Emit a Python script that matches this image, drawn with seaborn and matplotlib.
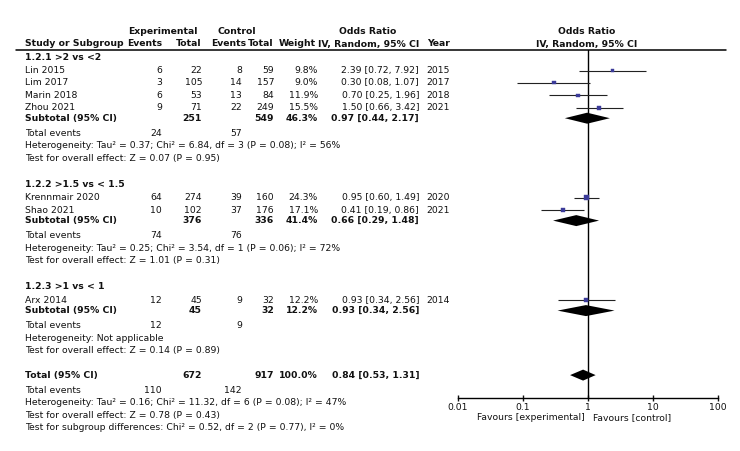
import numpy as np
import pandas as pd
import seaborn as sns
import matplotlib.pyplot as plt

sns.set_style("white")
plt.rcParams['font.family'] = ['DejaVu Sans']

# 연구별 데이터
studies = ["Lin 2015", "Lim 2017", "Marin 2018", "Zhou 2021", "Krennmair 2020", "Shao 2021", "Arx 2014"]
study_group = [0, 0, 0, 0, 1, 1, 2]
exp_events = [6, 3, 6, 9, 64, 10, 12]
exp_total = [22, 105, 53, 71, 274, 102, 45]
ctrl_events = [8, 14, 13, 22, 39, 37, 9]
ctrl_total = [59, 157, 84, 249, 160, 176, 32]
weight = [9.8, 9.0, 11.9, 15.5, 24.3, 17.1, 12.2]
or_est = [2.39, 0.30, 0.70, 1.50, 0.95, 0.41, 0.93]
or_lo = [0.72, 0.08, 0.25, 0.66, 0.60, 0.19, 0.34]
or_hi = [7.92, 1.07, 1.96, 3.42, 1.49, 0.86, 2.56]
year = [2015, 2017, 2018, 2021, 2020, 2021, 2014]

# 하위그룹 데이터
group_names = ["1.2.1 >2 vs <2", "1.2.2 >1.5 vs < 1.5", "1.2.3 >1 vs < 1"]
sub_exp_total = [251, 376, 45]
sub_ctrl_total = [549, 336, 32]
sub_exp_events = [24, 74, 12]
sub_ctrl_events = [57, 76, 9]
sub_weight = [46.3, 41.4, 12.2]
sub_or = [0.97, 0.66, 0.93]
sub_lo = [0.44, 0.29, 0.34]
sub_hi = [2.17, 1.48, 2.56]
sub_het = ["Heterogeneity: Tau² = 0.37; Chi² = 6.84, df = 3 (P = 0.08); I² = 56%",
           "Heterogeneity: Tau² = 0.25; Chi² = 3.54, df = 1 (P = 0.06); I² = 72%",
           "Heterogeneity: Not applicable"]
sub_test = ["Test for overall effect: Z = 0.07 (P = 0.95)",
            "Test for overall effect: Z = 1.01 (P = 0.31)",
            "Test for overall effect: Z = 0.14 (P = 0.89)"]

# 전체 데이터
tot_exp_total, tot_ctrl_total = 672, 917
tot_exp_events, tot_ctrl_events = 110, 142
tot_weight = 100.0
tot_or, tot_lo, tot_hi = 0.84, 0.53, 1.31
tot_het = "Heterogeneity: Tau² = 0.16; Chi² = 11.32, df = 6 (P = 0.08); I² = 47%"
tot_test = "Test for overall effect: Z = 0.78 (P = 0.43)"
tot_sub = "Test for subgroup differences: Chi² = 0.52, df = 2 (P = 0.77), I² = 0%"

tick_vals = [0.01, 0.1, 1, 10, 100]
tick_labels = ["0.01", "0.1", "1", "10", "100"]

W, H = 740, 451
fig = plt.figure(figsize=(W / 100, H / 100), dpi=100)
ov = fig.add_axes([0, 0, 1, 1])
ov.set_xlim(0, W)
ov.set_ylim(H, 0)
ov.axis("off")

FS = 6.7
ink = "#111111"


def txt(x, y, s, ha="left", bold=False):
    ov.text(x, y, s, ha=ha, va="center", fontsize=FS, color=ink,
            fontweight="bold" if bold else "normal")


# 열 위치 (픽셀)
X_NAME, X_EE, X_ET, X_CE, X_CT, X_W, X_OR, X_Y = 25, 162, 202, 242, 274, 318, 419, 450

# 헤더
txt(163, 32, "Experimental", ha="center", bold=True)
txt(237, 32, "Control", ha="center", bold=True)
txt(368, 32, "Odds Ratio", ha="center", bold=True)
txt(X_NAME, 44, "Study or Subgroup", bold=True)
txt(X_EE, 44, "Events", ha="right", bold=True)
txt(X_ET, 44, "Total", ha="right", bold=True)
txt(246, 44, "Events", ha="right", bold=True)
txt(X_CT, 44, "Total", ha="right", bold=True)
txt(316, 44, "Weight", ha="right", bold=True)
txt(X_OR, 44, "IV, Random, 95% CI", ha="right", bold=True)
txt(X_Y, 44, "Year", ha="right", bold=True)
txt(587, 31, "Odds Ratio", ha="center", bold=True)
txt(587, 44, "IV, Random, 95% CI", ha="center", bold=True)
ov.plot([16, 726], [50, 50], color="black", lw=1.1)

# 행 배치
study_y = []
sub_y = []
y = 57
for g, name in enumerate(group_names):
    txt(X_NAME, y, name, bold=True)
    y += 13.5
    idx = [i for i, s in enumerate(study_group) if s == g]
    for k, i in enumerate(idx):
        if k > 0:
            y += 12.4
        study_y.append(y)
        txt(X_NAME, y, studies[i])
        txt(X_EE, y, str(exp_events[i]), ha="right")
        txt(X_ET, y, str(exp_total[i]), ha="right")
        txt(X_CE, y, str(ctrl_events[i]), ha="right")
        txt(X_CT, y, str(ctrl_total[i]), ha="right")
        txt(X_W, y, f"{weight[i]:.1f}%", ha="right")
        txt(X_OR, y, f"{or_est[i]:.2f} [{or_lo[i]:.2f}, {or_hi[i]:.2f}]", ha="right")
        txt(X_Y, y, str(year[i]), ha="right")
    y += 10.5
    sub_y.append(y)
    txt(X_NAME, y, "Subtotal (95% CI)", bold=True)
    txt(X_ET, y, str(sub_exp_total[g]), ha="right", bold=True)
    txt(X_CT, y, str(sub_ctrl_total[g]), ha="right", bold=True)
    txt(X_W, y, f"{sub_weight[g]:.1f}%", ha="right", bold=True)
    txt(X_OR, y, f"{sub_or[g]:.2f} [{sub_lo[g]:.2f}, {sub_hi[g]:.2f}]", ha="right", bold=True)
    y += 15
    txt(X_NAME, y, "Total events")
    txt(X_EE, y, str(sub_exp_events[g]), ha="right")
    txt(X_CE, y, str(sub_ctrl_events[g]), ha="right")
    y += 12.5
    txt(X_NAME, y, sub_het[g])
    y += 12.5
    txt(X_NAME, y, sub_test[g])
    y += 26 if g < len(group_names) - 1 else 24.5

total_y = y
txt(X_NAME, y, "Total (95% CI)", bold=True)
txt(X_ET, y, str(tot_exp_total), ha="right", bold=True)
txt(X_CT, y, str(tot_ctrl_total), ha="right", bold=True)
txt(X_W, y, f"{tot_weight:.1f}%", ha="right", bold=True)
txt(X_OR, y, f"{tot_or:.2f} [{tot_lo:.2f}, {tot_hi:.2f}]", ha="right", bold=True)
y += 15
txt(X_NAME, y, "Total events")
txt(X_EE, y, str(tot_exp_events), ha="right")
txt(X_CE, y, str(tot_ctrl_events), ha="right")
y += 12.5
txt(X_NAME, y, tot_het)
y += 12.5
txt(X_NAME, y, tot_test)
y += 12.5
txt(X_NAME, y, tot_sub)

# 포레스트 플롯
AX_L, AX_R, AX_T, AX_B = 458, 718, 50, 398
fax = fig.add_axes([AX_L / W, 1 - AX_B / H, (AX_R - AX_L) / W, (AX_B - AX_T) / H])
fax.patch.set_alpha(0)
fax.set_xscale("log")
fax.set_xlim(0.01, 100)
fax.set_ylim(AX_B, AX_T)
for side in ["left", "right", "top"]:
    fax.spines[side].set_visible(False)
fax.spines["bottom"].set_color("black")
fax.spines["bottom"].set_linewidth(1.0)
fax.axvline(1, color="black", lw=1.0, zorder=1)

fax.hlines(study_y, or_lo, or_hi, color="#222222", lw=0.8, zorder=2)
df = pd.DataFrame({"or": or_est, "y": study_y, "weight": weight})
k = 0.55
sns.scatterplot(data=df, x="or", y="y", size="weight",
                sizes=(min(weight) * k, max(weight) * k),
                marker="s", color="#3b3b99", edgecolor="#3b3b99",
                linewidth=0.3, legend=False, ax=fax, zorder=3)

dh = 5.5
for est, lo, hi, yy in list(zip(sub_or, sub_lo, sub_hi, sub_y)) + [(tot_or, tot_lo, tot_hi, total_y)]:
    fax.fill([lo, est, hi, est], [yy, yy - dh, yy, yy + dh], color="black", lw=0, zorder=4)

fax.set_xticks(tick_vals)
fax.set_xticklabels(tick_labels)
fax.minorticks_off()
fax.tick_params(axis="x", direction="inout", length=5, width=1, pad=1,
                labelsize=FS, colors=ink, bottom=True)
fax.tick_params(axis="y", left=False, labelleft=False)
fax.set_xlabel("")
fax.set_ylabel("")

txt(585, 418, "Favours [experimental]", ha="right")
txt(593, 418, "Favours [control]")

fig.savefig("out.png", dpi=100)
